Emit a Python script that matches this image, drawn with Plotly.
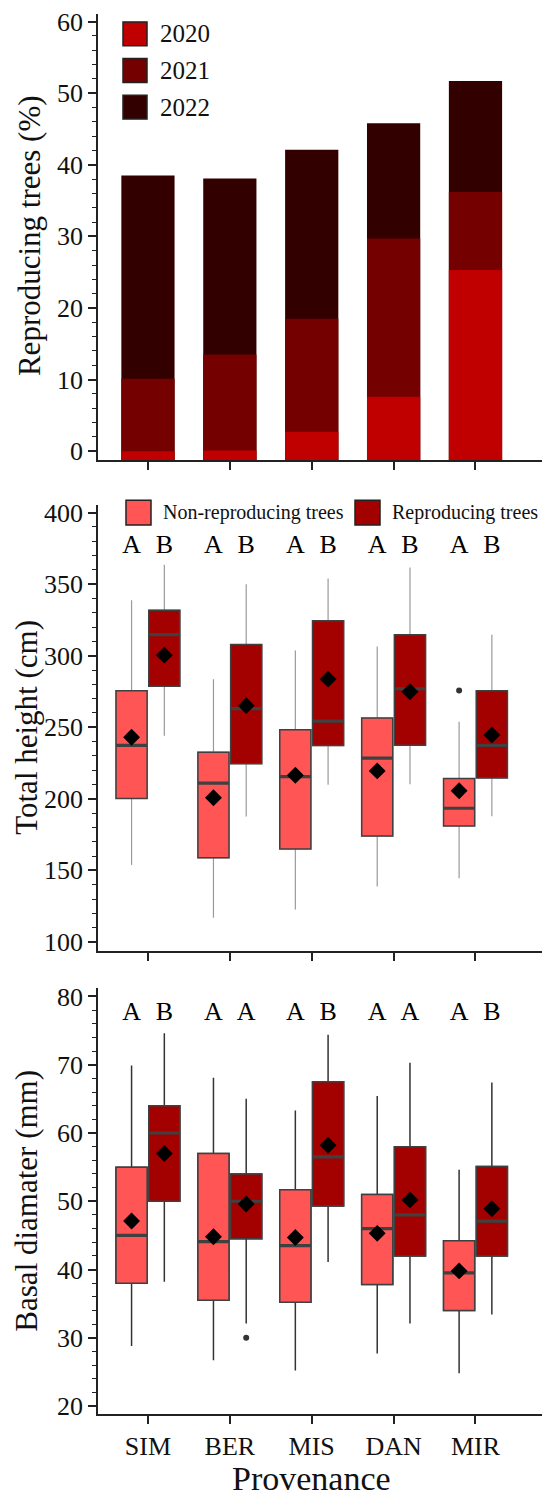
import plotly.graph_objects as go

# ---------------- data ----------------
provenances = ["SIM", "BER", "MIS", "DAN", "MIR"]
years = ["2020", "2021", "2022"]
repro_2020 = [0.0, 0.1, 2.7, 7.6, 25.3]
repro_2021 = [10.1, 13.4, 15.8, 22.1, 10.9]
repro_2022 = [28.4, 24.6, 23.6, 16.1, 15.5]

# Total height (cm)
h_non_low = [153.7, 116.9, 122.6, 138.8, 144.5]
h_non_q1 = [200.3, 158.8, 165.0, 174.0, 181.0]
h_non_med = [237.4, 210.9, 215.5, 228.5, 193.4]
h_non_q3 = [275.5, 232.6, 248.3, 256.4, 214.2]
h_non_up = [338.7, 283.6, 303.6, 306.4, 253.8]
h_non_mean = [243.0, 200.8, 216.5, 219.5, 205.6]
h_rep_low = [244.1, 187.6, 209.8, 210.2, 187.9]
h_rep_q1 = [278.7, 224.5, 237.2, 237.4, 214.6]
h_rep_med = [314.7, 263.0, 254.3, 276.9, 237.4]
h_rep_q3 = [331.8, 307.8, 324.4, 314.7, 275.5]
h_rep_up = [363.6, 350.0, 353.9, 361.7, 314.7]
h_rep_mean = [300.4, 265.1, 283.6, 274.8, 244.6]
h_non_out_x = ["MIR"]
h_non_out_y = [275.7]
h_non_letters = ["A", "A", "A", "A", "A"]
h_rep_letters = ["B", "B", "B", "B", "B"]

# Basal diameter (mm)
d_non_low = [28.8, 26.7, 25.2, 27.7, 24.8]
d_non_q1 = [38.0, 35.5, 35.2, 37.8, 34.0]
d_non_med = [45.0, 44.1, 43.5, 46.0, 39.5]
d_non_q3 = [55.0, 57.0, 51.7, 51.0, 44.2]
d_non_up = [69.9, 68.1, 63.3, 65.4, 54.6]
d_non_mean = [47.1, 44.8, 44.7, 45.3, 39.8]
d_rep_low = [38.2, 32.1, 41.1, 32.1, 33.4]
d_rep_q1 = [50.0, 44.5, 49.3, 42.0, 42.0]
d_rep_med = [60.0, 50.0, 56.5, 48.0, 47.1]
d_rep_q3 = [64.0, 54.0, 67.5, 58.0, 55.1]
d_rep_up = [74.6, 65.0, 74.4, 70.3, 67.4]
d_rep_mean = [57.0, 49.6, 58.2, 50.2, 48.9]
d_rep_out_x = ["BER"]
d_rep_out_y = [30.0]
d_non_letters = ["A", "A", "A", "A", "A"]
d_rep_letters = ["B", "A", "B", "A", "B"]

# ---------------- style ----------------
OFF = 8                      # default page margin of the html body
W, H = 550 - OFF, 1509 - OFF
FONT = "Liberation Serif"
C_YEARS = ["#C00000", "#750000", "#330000"]
C_NON = "#FF5555"
C_REP = "#A30000"
C_EDGE = "#404040"
AX = "#222222"


def px_x(v):
    return min(1.0, max(0.0, (v - OFF) / W))


def px_y(v):
    return min(1.0, max(0.0, 1 - (v - OFF) / H))


TOP_RANGE = [-1.25, 61.06]
MID_RANGE = [93.8, 405.5]
BOT_RANGE = [18.88, 81.16]
X_RANGE = [-0.61, 4.91]
MID_LETTER_Y = 376.3
BOT_LETTER_Y = 77.5

fig = go.Figure()

# ---------------- top panel: stacked bars ----------------
cum1 = repro_2020
cum2 = [a + b for a, b in zip(cum1, repro_2021)]
cum3 = [a + b for a, b in zip(cum2, repro_2022)]
base = TOP_RANGE[0]
for name, cum, col in [("2022", cum3, C_YEARS[2]), ("2021", cum2, C_YEARS[1]), ("2020", cum1, C_YEARS[0])]:
    fig.add_trace(go.Bar(
        x=provenances, y=[c - base for c in cum], base=base, name=name,
        marker=dict(color=col, line=dict(width=0)),
        xaxis="x", yaxis="y", showlegend=False))


# ---------------- box panels ----------------
def add_boxes(xa, ya, grp, fill, low, q1, med, q3, up, mean, letters, letter_y,
              whisk_col, whisk_w):
    # whiskers
    fig.add_trace(go.Box(
        x=provenances, q1=q1, median=med, q3=q3, lowerfence=low, upperfence=up,
        offsetgroup=grp, xaxis=xa, yaxis=ya, boxpoints=False, whiskerwidth=0,
        fillcolor="rgba(0,0,0,0)", line=dict(color=whisk_col, width=whisk_w),
        showlegend=False, hoverinfo="skip"))
    # box body
    fig.add_trace(go.Box(
        x=provenances, q1=q1, median=med, q3=q3, lowerfence=q1, upperfence=q3,
        offsetgroup=grp, xaxis=xa, yaxis=ya, boxpoints=False, whiskerwidth=0,
        fillcolor=fill, line=dict(color=C_EDGE, width=1.5), showlegend=False))
    # thick median
    fig.add_trace(go.Box(
        x=provenances, q1=med, median=med, q3=med, lowerfence=med, upperfence=med,
        offsetgroup=grp, xaxis=xa, yaxis=ya, boxpoints=False, whiskerwidth=0,
        fillcolor="rgba(0,0,0,0)", line=dict(color=C_EDGE, width=3.2),
        showlegend=False, hoverinfo="skip"))
    # mean diamonds
    fig.add_trace(go.Scatter(
        x=provenances, y=mean, mode="markers", offsetgroup=grp, xaxis=xa, yaxis=ya,
        marker=dict(symbol="diamond", size=13, color="black"), showlegend=False))
    # letters
    fig.add_trace(go.Scatter(
        x=provenances, y=[letter_y] * len(provenances), mode="text", text=letters,
        offsetgroup=grp, xaxis=xa, yaxis=ya, textposition="middle center",
        textfont=dict(family=FONT, size=26, color="black"), showlegend=False,
        hoverinfo="skip"))


add_boxes("x2", "y2", "non", C_NON, h_non_low, h_non_q1, h_non_med, h_non_q3, h_non_up,
          h_non_mean, h_non_letters, MID_LETTER_Y, "#9a9a9a", 1.2)
add_boxes("x2", "y2", "rep", C_REP, h_rep_low, h_rep_q1, h_rep_med, h_rep_q3, h_rep_up,
          h_rep_mean, h_rep_letters, MID_LETTER_Y, "#9a9a9a", 1.2)
fig.add_trace(go.Scatter(x=h_non_out_x, y=h_non_out_y, mode="markers", offsetgroup="non",
                         xaxis="x2", yaxis="y2", marker=dict(size=6, color="#333333"),
                         showlegend=False))

add_boxes("x3", "y3", "non", C_NON, d_non_low, d_non_q1, d_non_med, d_non_q3, d_non_up,
          d_non_mean, d_non_letters, BOT_LETTER_Y, "#333333", 1.5)
add_boxes("x3", "y3", "rep", C_REP, d_rep_low, d_rep_q1, d_rep_med, d_rep_q3, d_rep_up,
          d_rep_mean, d_rep_letters, BOT_LETTER_Y, "#333333", 1.5)
fig.add_trace(go.Scatter(x=d_rep_out_x, y=d_rep_out_y, mode="markers", offsetgroup="rep",
                         xaxis="x3", yaxis="y3", marker=dict(size=6, color="#333333"),
                         showlegend=False))

# ---------------- axes ----------------
xdom = [px_x(98), 1.0]
TICKFONT = dict(family=FONT, size=26, color="#111")


def xaxis(anchor, labels):
    return dict(domain=xdom, anchor=anchor, type="category", range=X_RANGE,
                categoryorder="array", categoryarray=provenances,
                showline=True, linecolor=AX, linewidth=1.5, ticks="outside",
                ticklen=8, tickwidth=1.5, tickcolor=AX, showgrid=False, zeroline=False,
                showticklabels=labels, tickfont=TICKFONT)


def yaxis(anchor, dom, rng, dtick, minor):
    return dict(domain=dom, anchor=anchor, range=rng, dtick=dtick, tick0=0,
                showline=True, linecolor=AX, linewidth=1.5, ticks="outside",
                ticklen=8, tickwidth=1.5, tickcolor=AX, showgrid=False, zeroline=False,
                tickfont=TICKFONT, ticklabeloverflow="allow",
                minor=dict(ticks="outside", ticklen=4, tickwidth=1.2, tickcolor=AX,
                           dtick=minor, showgrid=False))


dom_top = [px_y(458), px_y(8)]
dom_mid = [px_y(953), px_y(503)]
dom_bot = [px_y(1420), px_y(991)]

fig.update_layout(
    width=W, height=H, margin=dict(l=0, r=0, t=0, b=0),
    paper_bgcolor="white", plot_bgcolor="white",
    font=dict(family=FONT, color="#111"),
    barmode="overlay", bargap=0.35,
    boxmode="group", boxgap=0.2, boxgroupgap=0.05,
    scattermode="group", scattergap=0.2,
    xaxis=xaxis("y", False), yaxis=yaxis("x", dom_top, TOP_RANGE, 10, 2),
    xaxis2=xaxis("y2", False), yaxis2=yaxis("x2", dom_mid, MID_RANGE, 50, 10),
    xaxis3=xaxis("y3", True), yaxis3=yaxis("x3", dom_bot, BOT_RANGE, 10, 2),
    showlegend=False,
)

# ---------------- titles ----------------
ann = []
for text, xc, yc in [("Reproducing trees (%)", 29, 232), ("Total height (cm)", 27, 728),
                     ("Basal diamater (mm)", 27, 1205)]:
    ann.append(dict(text=text, x=px_x(xc), y=px_y(yc), xref="paper", yref="paper",
                    xanchor="center", yanchor="middle", textangle=-90, showarrow=False,
                    font=dict(family=FONT, size=31, color="#111")))
ann.append(dict(text="Provenance", x=px_x(311), y=px_y(1485), xref="paper", yref="paper",
                xanchor="center", yanchor="middle", showarrow=False,
                font=dict(family=FONT, size=34, color="#111")))

# ---------------- manual legends ----------------
shapes = []
for i, (yr, col) in enumerate(zip(years, C_YEARS)):
    yc = 28 + 37 * i
    shapes.append(dict(type="rect", xref="paper", yref="paper",
                       x0=px_x(123), x1=px_x(147), y0=px_y(yc + 12), y1=px_y(yc - 12),
                       fillcolor=col, line=dict(color="#222", width=1.5)))
    ann.append(dict(text=yr, x=px_x(158), y=px_y(yc), xref="paper", yref="paper",
                    xanchor="left", yanchor="middle", showarrow=False,
                    font=dict(family=FONT, size=25, color="#111")))

for x0, label, col in [(126, "Non-reproducing trees", C_NON), (355, "Reproducing trees", C_REP)]:
    yc = 511
    shapes.append(dict(type="rect", xref="paper", yref="paper",
                       x0=px_x(x0), x1=px_x(x0 + 25), y0=px_y(yc + 12.5), y1=px_y(yc - 12.5),
                       fillcolor=col, line=dict(color="#222", width=1.5)))
    ann.append(dict(text=label, x=px_x(x0 + 35), y=px_y(yc), xref="paper", yref="paper",
                    xanchor="left", yanchor="middle", showarrow=False,
                    font=dict(family=FONT, size=20, color="#111")))

fig.update_layout(annotations=ann, shapes=shapes)

fig.write_html("out.html")
